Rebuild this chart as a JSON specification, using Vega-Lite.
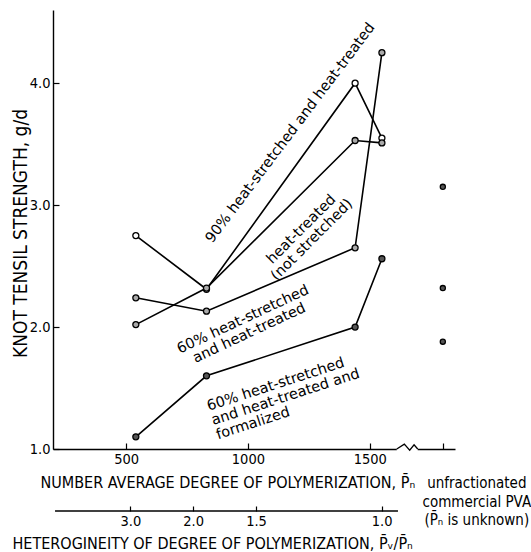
{
  "$schema": "https://vega.github.io/schema/vega-lite/v6.json",
  "width": 402,
  "height": 439,
  "autosize": {"type": "none"},
  "padding": {"left": 53, "top": 10, "right": 76, "bottom": 103},
  "background": "white",
  "config": {
    "view": {"stroke": null},
    "font": "DejaVu Sans Condensed, Liberation Sans, sans-serif",
    "axis": {
      "grid": false,
      "domainColor": "black",
      "domainWidth": 1.4,
      "tickColor": "black",
      "tickWidth": 1.2,
      "labelColor": "black",
      "titleColor": "black",
      "labelFont": "DejaVu Sans Condensed, Liberation Sans, sans-serif",
      "titleFont": "DejaVu Sans Condensed, Liberation Sans, sans-serif",
      "titleFontWeight": "normal",
      "labelFontSize": 14.5,
      "titleFontSize": 16
    }
  },
  "datasets": {
    "series": [
      {"series": "90% heat-stretched and heat-treated", "pn": 540, "v": 2.75},
      {"series": "90% heat-stretched and heat-treated", "pn": 830, "v": 2.31},
      {"series": "90% heat-stretched and heat-treated", "pn": 1440, "v": 4.0},
      {"series": "90% heat-stretched and heat-treated", "pn": 1550, "v": 3.55},
      {"series": "heat-treated (not stretched)", "pn": 540, "v": 2.02},
      {"series": "heat-treated (not stretched)", "pn": 830, "v": 2.32},
      {"series": "heat-treated (not stretched)", "pn": 1440, "v": 3.53},
      {"series": "heat-treated (not stretched)", "pn": 1550, "v": 3.51},
      {"series": "60% heat-stretched and heat-treated", "pn": 540, "v": 2.24},
      {"series": "60% heat-stretched and heat-treated", "pn": 830, "v": 2.13},
      {"series": "60% heat-stretched and heat-treated", "pn": 1440, "v": 2.65},
      {"series": "60% heat-stretched and heat-treated", "pn": 1550, "v": 4.25},
      {"series": "60% heat-stretched, heat-treated and formalized", "pn": 540, "v": 1.1},
      {"series": "60% heat-stretched, heat-treated and formalized", "pn": 830, "v": 1.6},
      {"series": "60% heat-stretched, heat-treated and formalized", "pn": 1440, "v": 2.0},
      {"series": "60% heat-stretched, heat-treated and formalized", "pn": 1550, "v": 2.56}
    ],
    "unfrac": [
      {"pn": 1800, "v": 3.15},
      {"pn": 1800, "v": 2.32},
      {"pn": 1800, "v": 1.88}
    ],
    "zigzag": [
      {"pn": 1611, "v": 1.0},
      {"pn": 1642, "v": 1.04},
      {"pn": 1664, "v": 0.99},
      {"pn": 1682, "v": 1.035},
      {"pn": 1697, "v": 1.0}
    ],
    "gap": [{"pn": 1611, "pn2": 1697, "v": 1.0}],
    "het": [{"h": 3.0}, {"h": 2.0}, {"h": 1.5}, {"h": 1.0}],
    "hetline": [{"h": 7.49, "h2": 0.9586, "v": 0.4918}]
  },
  "layer": [
    {
      "encoding": {
        "x": {
          "field": "pn",
          "type": "quantitative",
          "scale": {"domain": [200, 1850], "nice": false, "zero": false},
          "axis": {
            "values": [500, 1000, 1500, 1800],
            "format": "d",
            "labelExpr": "datum.value == 1800 ? '' : datum.label",
            "tickSize": -6,
            "labelPadding": 9,
            "title": "NUMBER AVERAGE DEGREE OF POLYMERIZATION, P̄ₙ",
            "titleAlign": "left",
            "titleAnchor": "start",
            "titleX": -13,
            "titleY": 33,
            "titleBaseline": "middle"
          }
        },
        "y": {
          "field": "v",
          "type": "quantitative",
          "scale": {"domain": [1, 4.6], "nice": false, "zero": false},
          "axis": {
            "values": [1, 2, 3, 4],
            "format": ".1f",
            "tickSize": -6,
            "labelPadding": 9,
            "title": "KNOT TENSIL STRENGTH, g/d",
            "titleFontSize": 19,
            "titleAngle": -90,
            "titleAlign": "center",
            "titleBaseline": "middle",
            "titleX": -33,
            "titleY": 223
          }
        }
      },
      "layer": [
        {
          "data": {"name": "gap"},
          "mark": {"type": "rule", "color": "white", "strokeWidth": 4},
          "encoding": {"x2": {"field": "pn2"}}
        },
        {
          "data": {"name": "zigzag"},
          "mark": {"type": "line", "color": "black", "strokeWidth": 1.3},
          "encoding": {}
        },
        {
          "data": {"name": "series"},
          "mark": {"type": "line", "color": "black", "strokeWidth": 1.6},
          "encoding": {"detail": {"field": "series", "type": "nominal"}}
        },
        {
          "data": {"name": "series"},
          "mark": {"type": "point", "shape": "circle", "size": 36, "stroke": "black", "strokeWidth": 1.3, "filled": false, "opacity": 1},
          "encoding": {
            "fill": {
              "field": "series",
              "type": "nominal",
              "scale": {
                "domain": ["90% heat-stretched and heat-treated", "heat-treated (not stretched)", "60% heat-stretched and heat-treated", "60% heat-stretched, heat-treated and formalized"],
                "range": ["white", "#aaaaaa", "#aaaaaa", "#555555"]
              },
              "legend": null
            }
          }
        },
        {
          "data": {"name": "unfrac"},
          "mark": {"type": "point", "shape": "circle", "size": 26, "stroke": "black", "strokeWidth": 1.3, "fill": "#555555", "opacity": 1}
        },
        {
          "data": {"values": [{"pn": 1175, "v": 3.59, "label": "90% heat-stretched and heat-treated"}]},
          "mark": {"type": "text", "angle": -53, "fontSize": 14.5, "align": "center", "baseline": "middle", "font": "DejaVu Sans"},
          "encoding": {"text": {"field": "label"}}
        },
        {
          "data": {"values": [{"pn": 1220, "v": 2.8, "label": "heat-treated\n(not stretched)"}]},
          "mark": {"type": "text", "angle": -45, "fontSize": 14.5, "align": "center", "baseline": "middle", "lineBreak": "\n", "lineHeight": 15, "font": "DejaVu Sans"},
          "encoding": {"text": {"field": "label"}}
        },
        {
          "data": {"values": [{"pn": 980, "v": 2.06, "label": "60% heat-stretched\nand heat-treated"}]},
          "mark": {"type": "text", "angle": -25, "fontSize": 14.5, "align": "center", "baseline": "middle", "lineBreak": "\n", "lineHeight": 15, "font": "DejaVu Sans"},
          "encoding": {"text": {"field": "label"}}
        },
        {
          "data": {"values": [{"pn": 834, "v": 1.344, "label": "60% heat-stretched\nand heat-treated and\nformalized"}]},
          "mark": {"type": "text", "angle": -18, "fontSize": 14.5, "align": "left", "baseline": "middle", "lineBreak": "\n", "lineHeight": 15, "font": "DejaVu Sans"},
          "encoding": {"text": {"field": "label"}}
        },
        {
          "data": {"values": [{"pn": 1800, "v": 1.0, "label": "unfractionated\ncommercial PVA\n(P̄ₙ is unknown)"}]},
          "mark": {"type": "text", "fontSize": 15, "align": "center", "baseline": "middle", "dx": 34, "dy": 34, "lineBreak": "\n", "lineHeight": 18.5},
          "encoding": {"text": {"field": "label"}}
        }
      ]
    },
    {
      "encoding": {
        "x": {
          "field": "h",
          "type": "quantitative",
          "scale": {"type": "pow", "exponent": -1, "domain": [7.805, 0.8372], "nice": false, "zero": false},
          "axis": {
            "orient": "bottom",
            "offset": 62,
            "domain": false,
            "values": [3, 2, 1.5, 1],
            "format": ".1f",
            "tickSize": -5,
            "labelPadding": 8,
            "title": "HETEROGINEITY OF DEGREE OF POLYMERIZATION, P̄ᵥ/P̄ₙ",
            "titleAlign": "left",
            "titleAnchor": "start",
            "titleX": -41,
            "titleY": 32,
            "titleBaseline": "middle"
          }
        }
      },
      "layer": [
        {
          "data": {"name": "het"},
          "mark": {"type": "point", "opacity": 0}
        },
        {
          "data": {"name": "hetline"},
          "mark": {"type": "rule", "color": "black", "strokeWidth": 1.4},
          "encoding": {
            "x2": {"field": "h2"},
            "y": {"field": "v", "type": "quantitative"}
          }
        }
      ]
    }
  ],
  "resolve": {"scale": {"x": "independent"}}
}
